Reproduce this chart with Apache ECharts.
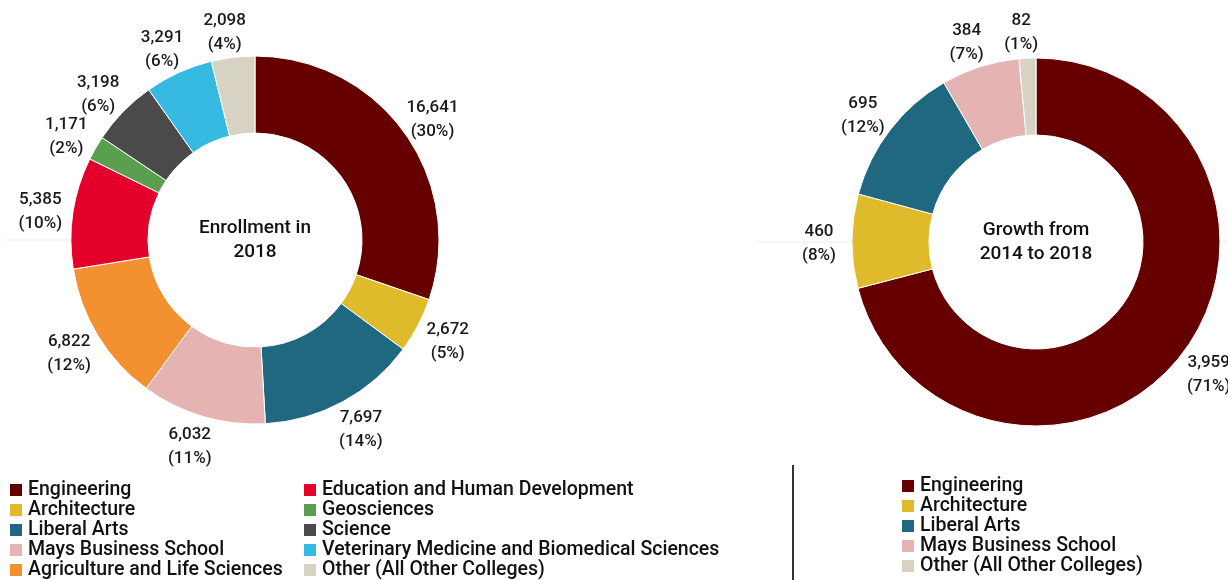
<!DOCTYPE html>
<html>
<head>
<meta charset="utf-8">
<script src="https://cdn.jsdelivr.net/npm/echarts@6/dist/echarts.min.js"></script>
<style>
  html, body { margin: 0; padding: 0; background: #fff; }
  #chart { width: 1228px; height: 580px; }
</style>
</head>
<body>
<div id="chart"></div>
<script>
  // enrollment 2018, clockwise from 12 o'clock
  const enrollNames = ['Engineering', 'Architecture', 'Liberal Arts', 'Mays Business School', 'Agriculture and Life Sciences',
    'Education and Human Development', 'Geosciences', 'Science', 'Veterinary Medicine and Biomedical Sciences', 'Other (All Other Colleges)']
  const enrollValues = [16641, 2672, 7697, 6032, 6822, 5385, 1171, 3198, 3291, 2098]

  // growth 2014 -> 2018
  const growthNames = ['Engineering', 'Architecture', 'Liberal Arts', 'Mays Business School', 'Other (All Other Colleges)']
  const growthValues = [3959, 460, 695, 384, 82]

  const colorOf = {
    'Engineering': '#660000',
    'Architecture': '#dfbb2b',
    'Liberal Arts': '#1f6880',
    'Mays Business School': '#e6b3b3',
    'Agriculture and Life Sciences': '#f39130',
    'Education and Human Development': '#e4002b',
    'Geosciences': '#5a9e4f',
    'Science': '#4a4a4a',
    'Veterinary Medicine and Biomedical Sciences': '#36bae2',
    'Other (All Other Colleges)': '#d6d3c4',
  }

  const font = 'Roboto, "Noto Sans", sans-serif'

  const toData = (names, values) => names.map((n, i) => ({
    name: n,
    value: values[i],
    itemStyle: { color: colorOf[n] },
  }))

  const pieSeries = (center, data) => ({
    type: 'pie',
    center,
    radius: [107, 184],
    startAngle: 90,
    clockwise: true,
    avoidLabelOverlap: false,
    minShowLabelAngle: 0,
    silent: true,
    itemStyle: { borderColor: '#fff', borderWidth: 1 },
    label: {
      show: true,
      position: 'outside',
      alignTo: 'none',
      overflow: 'none',
      fontFamily: font,
      fontSize: 17,
      fontWeight: 500,
      lineHeight: 24,
      color: '#1a1a1a',
      formatter: (p) => p.value.toLocaleString('en-US') + '\n(' + Math.round(p.percent) + '%)',
    },
    labelLine: { show: false, length: 28, length2: 0 },
    labelLayout: { align: 'center', dy: 3, hideOverlap: false },
    data,
  })

  const legendBase = {
    orient: 'vertical',
    icon: 'rect',
    itemWidth: 14,
    itemHeight: 14,
    itemGap: 0,
    padding: 0,
    height: 140,
    selectedMode: false,
    textStyle: { fontFamily: font, fontSize: 19.5, fontWeight: 500, color: '#111' },
  }

  const options = {
    animation: false,
    legend: [
      { ...legendBase, left: 8, top: 480, data: enrollNames.slice(0, 5) },
      { ...legendBase, left: 302, top: 480, data: enrollNames.slice(5) },
      { ...legendBase, left: 900, top: 476, data: growthNames },
    ],
    graphic: [
      // faint guide lines
      { type: 'line', shape: { x1: 6, y1: 240, x2: 70, y2: 240 }, style: { stroke: '#ececec', lineWidth: 1 } },
      { type: 'line', shape: { x1: 755, y1: 242, x2: 851, y2: 242 }, style: { stroke: '#ececec', lineWidth: 1 } },
      { type: 'line', shape: { x1: 1220, y1: 242, x2: 1228, y2: 242 }, style: { stroke: '#ececec', lineWidth: 1 } },
      // divider
      { type: 'line', shape: { x1: 793, y1: 465, x2: 793, y2: 580 }, style: { stroke: '#333', lineWidth: 2 } },
      {
        type: 'text', x: 255, y: 240,
        style: { text: 'Enrollment in\n2018', align: 'center', verticalAlign: 'middle', font: '500 19px ' + font, lineHeight: 24, fill: '#111' },
      },
      {
        type: 'text', x: 1036, y: 242,
        style: { text: 'Growth from\n2014 to 2018', align: 'center', verticalAlign: 'middle', font: '500 19px ' + font, lineHeight: 24, fill: '#111' },
      },
    ],
    series: [
      pieSeries([255, 240], toData(enrollNames, enrollValues)),
      pieSeries([1036, 242], toData(growthNames, growthValues)),
    ],
  }

  const chart = echarts.init(document.getElementById('chart'))
  chart.setOption(options)
  window.addEventListener('resize', function () {
    chart && chart.resize()
  })
</script>
</body>
</html>
